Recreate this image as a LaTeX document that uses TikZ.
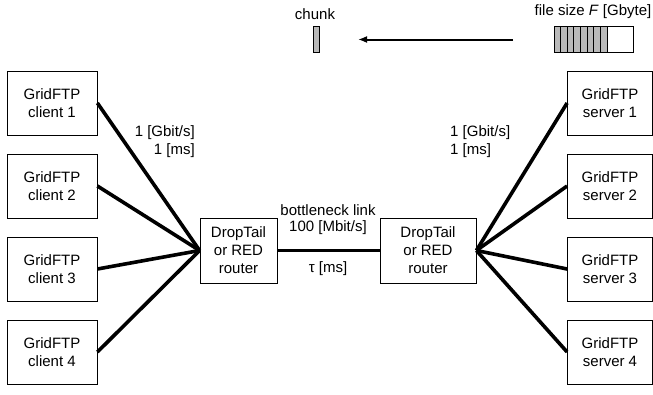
\documentclass[tikz,border=0pt]{standalone}
\usepackage{fontspec}
\setmainfont{Liberation Sans}
\usetikzlibrary{positioning, arrows.meta}

\tikzset{
  hostbox/.style = {draw, line width=0.8pt, minimum width=90pt, minimum height=64pt,
                    align=center, inner sep=0pt},
  routerbox/.style = {draw, line width=0.8pt, minimum width=77pt, minimum height=65pt,
                    align=center, inner sep=0pt},
  link/.style = {line width=3.6pt},
  lbl/.style = {inner sep=0pt},
}

\begin{document}
\begin{tikzpicture}[x=1pt, y=-1pt, font=\fontsize{15}{18}\selectfont]
            \useasboundingbox (0,0) rectangle (653,394);

            % clients
            \node[hostbox] (c1) at (52,103) {GridFTP\\client 1};
            \node[hostbox] (c2) at (52,186) {GridFTP\\client 2};
            \node[hostbox] (c3) at (52,269) {GridFTP\\client 3};
            \node[hostbox] (c4) at (52,352) {GridFTP\\client 4};

            % servers
            \node[hostbox, minimum width=85pt] (s1) at (610,103) {GridFTP\\server 1};
            \node[hostbox, minimum width=85pt] (s2) at (610,186) {GridFTP\\server 2};
            \node[hostbox, minimum width=85pt] (s3) at (610,269) {GridFTP\\server 3};
            \node[hostbox, minimum width=85pt] (s4) at (610,352) {GridFTP\\server 4};

            % routers
            \node[routerbox] (rl) at (238.5,250.5) {DropTail\\or RED\\router};
            \node[routerbox, minimum width=96pt] (rr) at (428,250.5) {DropTail\\or RED\\router};

            % links
            \foreach \i in {1,...,4} {
                \draw[link] (c\i.east) -- (rl.west);
                \draw[link] (s\i.west) -- (rr.east);
            }
            \draw[link] (rl) -- (rr);

            % link labels
            \node[lbl, anchor=east] at (195,133) {1 [Gbit/s]};
            \node[lbl, anchor=east] at (195,151) {1 [ms]};
            \node[lbl, anchor=west] at (450,133) {1 [Gbit/s]};
            \node[lbl, anchor=west] at (450,151) {1 [ms]};
            \node[lbl] at (328,210) {bottleneck link};
            \node[lbl] at (328,228) {100 [Mbit/s]};
            \node[lbl] at (328,269) {τ [ms]};

            % file and chunk
            \node[lbl] (chunklbl) at (315,14) {chunk};
            \draw[fill=gray!55, line width=0.6pt] (313,26) rectangle (319,52);
            \node[lbl] (filelbl) at (593,12) {file size \textit{F} [Gbyte]};
            \draw[fill=gray!55, line width=0.6pt] (554,26) rectangle (607,52);
            \foreach \x in {560.6,567.2,...,604} {
                \draw[line width=0.8pt] (\x,26) -- (\x,52);
            }
            \draw[line width=0.8pt] (554,26) rectangle (633,52);
            \coordinate (filetail) at (513,39.5);
            \coordinate (chunkhead) at (358,39.5);
            \draw[-{Latex[length=9pt, width=7pt]}, line width=2pt] (filetail) -- (chunkhead);
\end{tikzpicture}
\end{document}
